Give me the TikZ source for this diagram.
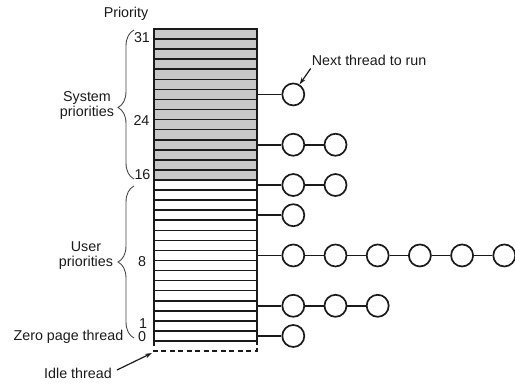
\documentclass[tikz,border=0pt]{standalone}
\usepackage{fontspec}
\setmainfont{Liberation Sans}
\usetikzlibrary{arrows.meta,decorations.pathreplacing}
\definecolor{rowgray}{HTML}{C8C8C8}
\definecolor{ink}{HTML}{1A1A1A}
\begin{document}
\begin{tikzpicture}[x=1pt,y=-1pt,
  rowbox/.style={minimum width=103pt, minimum height=10.065pt, inner sep=0pt, outer sep=0pt},
  gridline/.style={draw=ink, line width=1.6pt},
  thr/.style={draw=ink, circle, line width=1.7pt, minimum size=22pt, inner sep=0pt},
  lbl/.style={inner sep=0pt, text=ink, font=\fontsize{14.3}{15}\selectfont},
  link/.style={draw=ink, line width=1.6pt},
  bracestyle/.style={draw=ink!80, line width=0.9pt, decorate},
  pointer/.style={draw=ink, line width=1.2pt, -{Stealth[length=7pt,width=4.5pt]}}]
\useasboundingbox (0,0) rectangle (515,384);
% priority table
\foreach \k in {0,...,14} {
  \node[rowbox, fill=rowgray] (r\k) at (205.5,{29+(\k+0.5)*10.065}) {};
}
\foreach \k in {15,...,30} {
  \node[rowbox, fill=white] (r\k) at (205.5,{29+(\k+0.5)*10.065}) {};
}
\foreach \k in {1,...,30} {
  \draw[gridline] (r\k.north west) -- (r\k.north east);
}
\draw[gridline] (r0.north west) rectangle (r30.south east);
% idle thread dashed slot
\coordinate (dl) at (154,351);
\coordinate (dr) at (257,351);
\draw[ink, line width=1.2pt, dash pattern=on 5pt off 3.5pt] (r30.south west) -- (dl) -- (dr) -- (r30.south east);
% thread chains
\foreach \k/\n in {6/1,11/2,15/2,18/1,22/6,27/3,30/1} {
  \foreach \j in {1,...,\n} {
    \node[thr] (c\k-\j) at ({293.3+42.2*(\j-1)},{29+(\k+0.5)*10.065}) {};
  }
  \draw[link] (r\k.east) -- (c\k-1.west);
  \ifnum\n>1
    \foreach \j [evaluate=\j as \i using int(\j-1)] in {2,...,\n} {
      \draw[link] (c\k-\i.east) -- (c\k-\j.west);
    }
  \fi
}
% labels
\node[lbl] (prio) at (126,14) {Priority};
\node[lbl] (n31) at (142,38) {31};
\node[lbl] (n24) at (141.5,121) {24};
\node[lbl] (n16) at (142.5,175) {16};
\node[lbl] (n8) at (142,262) {8};
\node[lbl] (n1) at (143,323.5) {1};
\node[lbl] (n0) at (142,337) {0};
\node[lbl, align=center] (sys) at (87,105) {System\\priorities};
\node[lbl, align=center] (usr) at (86,256) {User\\priorities};
\node[lbl, anchor=east] (zero) at (123.5,337) {Zero page thread};
\node[lbl] (idle) at (78,373) {Idle thread};
\node[lbl, anchor=west] (next) at (311.7,60) {Next thread to run};
% braces
\coordinate (sysB) at (134,179);
\coordinate (sysT) at (134,30);
\coordinate (usrB) at (134,338);
\coordinate (usrT) at (134,186);
\draw[bracestyle, decoration={brace, amplitude=16pt, aspect=0.48}] (sysB) -- (sysT);
\draw[bracestyle, decoration={brace, amplitude=16pt, aspect=0.5}] (usrB) -- (usrT);
% pointers
\coordinate (idlecorner) at (152,353);
\draw[pointer] ([shift={(5,-3)}]idle.east) -- (idlecorner);
\draw[pointer] ([shift={(-1,3)}]next.south west) -- (c6-1.58);
\end{tikzpicture}
\end{document}
